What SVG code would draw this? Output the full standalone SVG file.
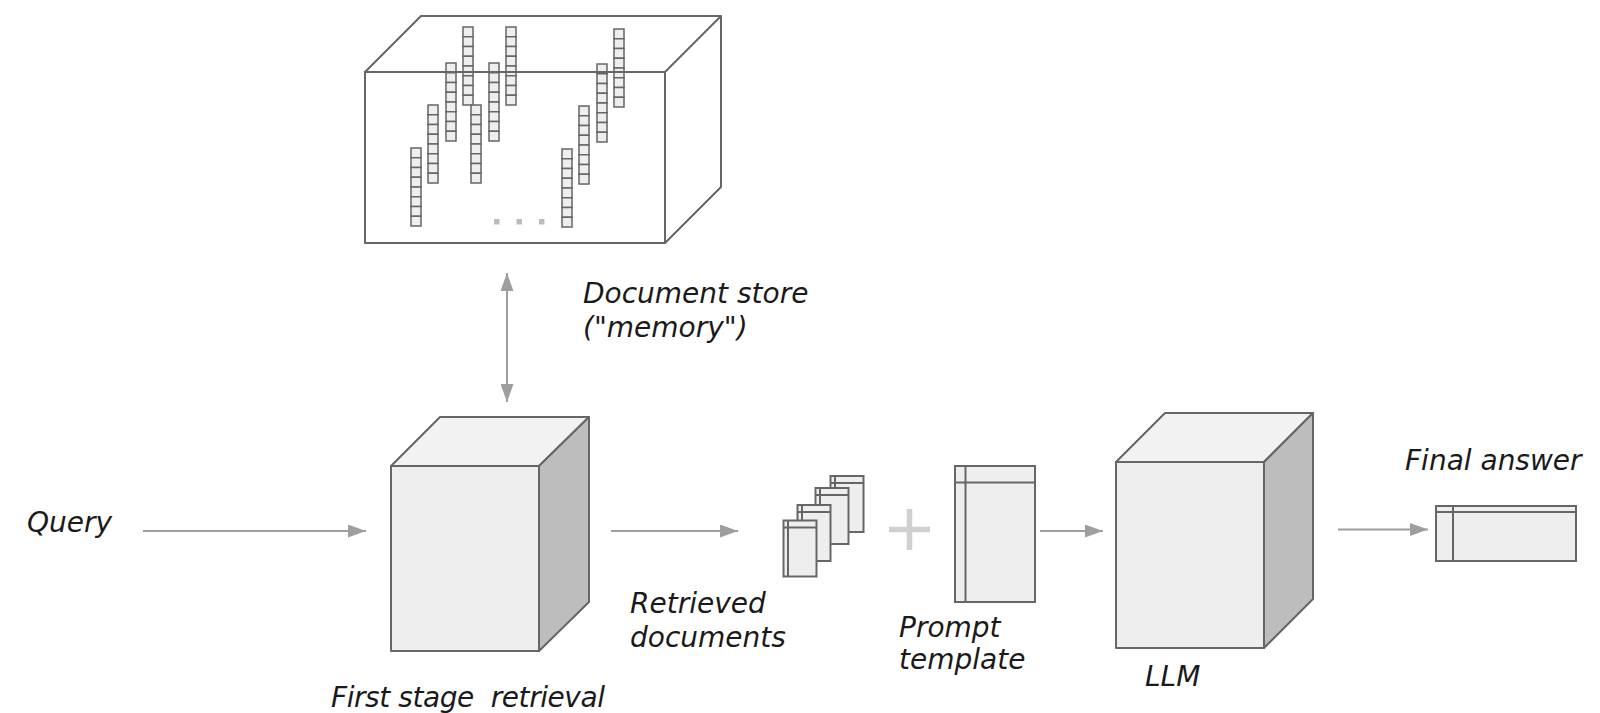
<svg xmlns="http://www.w3.org/2000/svg" width="1600" height="713" viewBox="0 0 1600 713">
<style>
.edge{fill:none;stroke:#666;stroke-width:2;stroke-linejoin:round}
.front{fill:#eeeeee;stroke:#666;stroke-width:2;stroke-linejoin:round}
.top{fill:#f2f2f2;stroke:#666;stroke-width:2;stroke-linejoin:round}
.side{fill:#bdbdbd;stroke:#666;stroke-width:2;stroke-linejoin:round}
.doc{fill:#eeeeee;stroke:#666;stroke-width:2}
.thin{fill:none;stroke:#666;stroke-width:2}
.cell{fill:#eeeeee;stroke:#666;stroke-width:1.5}
.conn{fill:none;stroke:#9e9e9e;stroke-width:2}
.lbl{font-family:"DejaVu Sans",sans-serif;font-style:italic;font-size:28px;fill:#1a1a1a;white-space:pre}
</style>
<defs>
<marker id="ah" markerUnits="userSpaceOnUse" markerWidth="18" markerHeight="13" refX="18" refY="6.5" orient="auto-start-reverse" viewBox="0 0 18 13">
<path d="M0,0 L18,6.5 L0,13 z" fill="#9e9e9e"/>
</marker>
<g id="col">
<rect x="0" y="0" width="10" height="9.75" class="cell"/>
<rect x="0" y="9.75" width="10" height="9.75" class="cell"/>
<rect x="0" y="19.5" width="10" height="9.75" class="cell"/>
<rect x="0" y="29.25" width="10" height="9.75" class="cell"/>
<rect x="0" y="39" width="10" height="9.75" class="cell"/>
<rect x="0" y="48.75" width="10" height="9.75" class="cell"/>
<rect x="0" y="58.5" width="10" height="9.75" class="cell"/>
<rect x="0" y="68.25" width="10" height="9.75" class="cell"/>
</g>
</defs>
<rect width="1600" height="713" fill="#ffffff"/>

<g id="document-store">
<use href="#col" x="411" y="148"/>
<use href="#col" x="428" y="105"/>
<use href="#col" x="446" y="63"/>
<use href="#col" x="463" y="27"/>
<use href="#col" x="471" y="105"/>
<use href="#col" x="489" y="63"/>
<use href="#col" x="506" y="27"/>
<use href="#col" x="562" y="149"/>
<use href="#col" x="579" y="106"/>
<use href="#col" x="597" y="64"/>
<use href="#col" x="614" y="29"/>
<rect x="494" y="219" width="5.5" height="5.5" fill="#bdbdbd"/>
<rect x="516.5" y="219" width="5.5" height="5.5" fill="#bdbdbd"/>
<rect x="539" y="219" width="5.5" height="5.5" fill="#bdbdbd"/>
<path class="edge" d="M365,72 L421,16 L721,16 L665,72 Z M665,72 L721,16 L721,187 L665,243 Z"/>
<rect class="edge" x="365" y="72" width="300" height="171"/>
<text class="lbl" x="583" y="303">Document store</text>
<text class="lbl" x="583" y="337">("memory")</text>
</g>

<g id="query">
<text class="lbl" x="27" y="532">Query</text>
</g>

<g id="first-stage-retrieval">
<path class="top" d="M391,466 L440,417 L589,417 L539,466 Z"/>
<path class="side" d="M539,466 L589,417 L589,602 L539,651 Z"/>
<rect class="front" x="391" y="466" width="148" height="185"/>
<text class="lbl" x="331" y="707" textLength="274" lengthAdjust="spacing">First stage  retrieval</text>
</g>

<g id="retrieved-documents">
<rect class="doc" x="830.5" y="476" width="33" height="56"/>
<path class="thin" d="M835,476 V532 M830.5,483 H863.5"/>
<rect class="doc" x="815.5" y="488" width="33" height="56"/>
<path class="thin" d="M820,488 V544 M815.5,495 H848.5"/>
<rect class="doc" x="797.5" y="505" width="33" height="56"/>
<path class="thin" d="M802,505 V561 M797.5,512 H830.5"/>
<rect class="doc" x="783.5" y="520.5" width="33" height="56"/>
<path class="thin" d="M788,520.5 V576.5 M783.5,527.5 H816.5"/>
<text class="lbl" x="630" y="613">Retrieved</text>
<text class="lbl" x="630" y="647">documents</text>
</g>

<g id="plus">
<path d="M889,529.5 H930 M909.5,509 V550" stroke="#d0d0d0" stroke-width="5.5" fill="none"/>
</g>

<g id="prompt-template">
<rect class="doc" x="955" y="466" width="80" height="136"/>
<path class="thin" d="M965.5,466 V602 M955,482.5 H1035"/>
<text class="lbl" x="899" y="637">Prompt</text>
<text class="lbl" x="899" y="669">template</text>
</g>

<g id="llm">
<path class="top" d="M1116,462 L1165,413 L1313,413 L1264,462 Z"/>
<path class="side" d="M1264,462 L1313,413 L1313,599 L1264,648 Z"/>
<rect class="front" x="1116" y="462" width="148" height="186"/>
<text class="lbl" x="1145" y="686">LLM</text>
</g>

<g id="final-answer">
<rect class="doc" x="1436" y="506" width="140" height="55"/>
<path class="thin" d="M1453,506 V561 M1436,512 H1576"/>
<text class="lbl" x="1405" y="470">Final answer</text>
</g>

<g id="connectors">
<line class="conn" x1="507" y1="273" x2="507" y2="402" marker-start="url(#ah)" marker-end="url(#ah)"/>
<line class="conn" x1="143" y1="531" x2="366" y2="531" marker-end="url(#ah)"/>
<line class="conn" x1="611" y1="531" x2="738" y2="531" marker-end="url(#ah)"/>
<line class="conn" x1="1040" y1="531" x2="1103" y2="531" marker-end="url(#ah)"/>
<line class="conn" x1="1338" y1="529.5" x2="1428" y2="529.5" marker-end="url(#ah)"/>
</g>
</svg>
